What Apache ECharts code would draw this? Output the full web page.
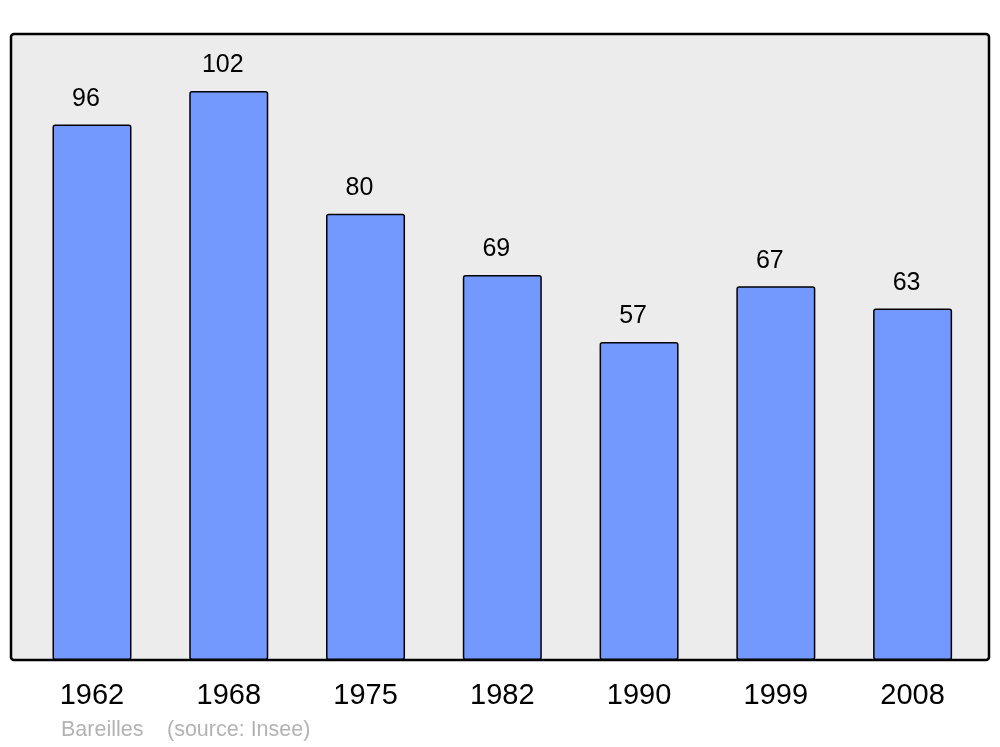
<!DOCTYPE html>
<html>
<head>
<meta charset="utf-8">
<script src="https://cdn.jsdelivr.net/npm/echarts@6/dist/echarts.min.js"></script>
<style>html,body{margin:0;padding:0;background:#fff}#c{width:1000px;height:747px}</style>
</head>
<body>
<div id="c"></div>
<script>
const years = ['1962','1968','1975','1982','1990','1999','2008'];
const population = [96, 102, 80, 69, 57, 67, 63];
const footerPlace = 'Bareilles';
const footerSource = '(source: Insee)';

const chart = echarts.init(document.getElementById('c'), null, {renderer: 'canvas'});
chart.setOption({
  animation: false,
  backgroundColor: '#ffffff',
  graphic: [
    {type: 'rect', z: -10, shape: {x: 11, y: 34, width: 978, height: 626, r: 3},
     style: {fill: '#ececec', stroke: '#000', lineWidth: 2.5}},
    {type: 'text', x: 61, y: 719, style: {text: footerPlace, fill: '#b3b3b3', font: '21.5px "Liberation Sans", Arial, sans-serif'}},
    {type: 'text', x: 167, y: 719, style: {text: footerSource, fill: '#b3b3b3', font: '21.5px "Liberation Sans", Arial, sans-serif'}}
  ],
  grid: {left: 23.6, right: 19, top: 34, bottom: 87},
  xAxis: {
    type: 'category', data: years,
    axisLine: {show: false}, axisTick: {show: false},
    axisLabel: {fontSize: 29, color: '#000', fontFamily: '"Liberation Sans", Arial, sans-serif', margin: 21}
  },
  yAxis: {type: 'value', min: 0, max: 112.2, show: false, splitLine: {show: false}},
  series: [{
    type: 'bar', data: population, barWidth: 79,
    itemStyle: {color: '#7399ff', borderColor: '#000', borderWidth: 1.5, borderRadius: 2},
    label: {show: true, position: 'top', distance: 13, offset: [-6, 0], fontSize: 25, color: '#000',
            fontFamily: '"Liberation Sans", Arial, sans-serif'}
  }]
});
</script>
</body>
</html>
